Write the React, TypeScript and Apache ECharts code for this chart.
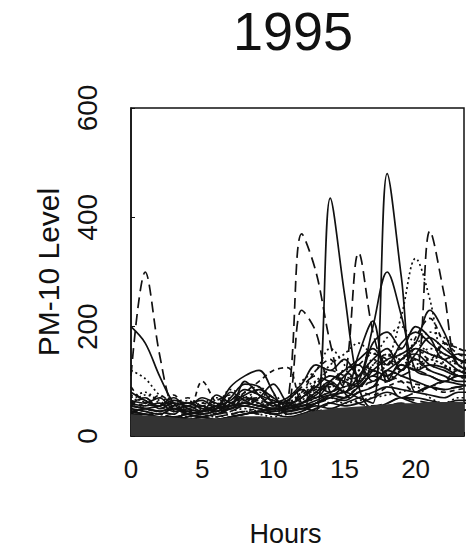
import React, { useEffect, useRef } from "react";
import * as echarts from "echarts";

const HOURS = [0, 1, 2, 3, 4, 5, 6, 7, 8, 9, 10, 11, 12, 13, 14, 15, 16, 17, 18, 19, 20, 21, 22, 23, 24];
const X_TICKS = [0, 5, 10, 15, 20];
const Y_TICKS = [0, 200, 400, 600];

const S01 = [110, 300, 150, 45, 30, 25, 20, 25, 30, 30, 25, 30, 40, 45, 50, 40, 45, 50, 55, 60, 50, 45, 40, 45, 50];
const S02 = [200, 170, 110, 60, 40, 35, 30, 35, 40, 45, 40, 35, 40, 50, 60, 55, 60, 70, 80, 70, 60, 55, 50, 60, 60];
const S03 = [120, 105, 75, 60, 45, 40, 35, 40, 45, 40, 35, 40, 45, 60, 70, 60, 65, 70, 75, 80, 90, 70, 60, 70, 70];
const S04 = [90, 60, 55, 75, 40, 100, 60, 40, 45, 50, 40, 45, 60, 80, 60, 70, 90, 100, 110, 100, 80, 90, 100, 120, 110];
const S05 = [50, 45, 40, 50, 45, 40, 50, 90, 110, 120, 80, 40, 45, 55, 50, 60, 70, 80, 90, 85, 80, 75, 70, 80, 80];
const S06 = [60, 50, 45, 40, 60, 55, 40, 60, 80, 100, 120, 125, 60, 50, 60, 70, 80, 75, 90, 100, 95, 90, 80, 85, 90];
const S07 = [40, 50, 45, 55, 60, 50, 45, 70, 95, 90, 60, 50, 55, 60, 70, 65, 80, 90, 120, 110, 100, 90, 85, 90, 95];
const S08 = [40, 35, 30, 30, 25, 25, 30, 35, 40, 45, 50, 60, 370, 300, 170, 80, 60, 55, 60, 70, 65, 60, 55, 60, 60];
const S09 = [35, 30, 30, 25, 25, 30, 30, 35, 40, 45, 40, 45, 50, 45, 435, 260, 90, 50, 60, 70, 70, 65, 60, 65, 65];
const S10 = [30, 30, 25, 25, 30, 30, 35, 40, 45, 40, 45, 50, 55, 60, 70, 100, 335, 190, 110, 70, 80, 90, 85, 90, 90];
const S11 = [30, 25, 25, 30, 30, 35, 30, 35, 40, 45, 50, 45, 50, 60, 70, 80, 70, 60, 480, 290, 80, 90, 100, 95, 90];
const S12 = [45, 40, 35, 35, 30, 35, 40, 50, 60, 55, 50, 55, 60, 70, 80, 90, 100, 200, 300, 220, 120, 110, 100, 110, 110];
const S13 = [50, 45, 40, 35, 35, 40, 45, 55, 65, 60, 55, 60, 80, 100, 90, 100, 120, 130, 140, 220, 325, 250, 130, 120, 110];
const S14 = [55, 50, 45, 40, 40, 45, 50, 60, 70, 65, 60, 65, 90, 110, 100, 120, 130, 120, 110, 130, 120, 375, 260, 130, 150];
const S15 = [45, 40, 35, 35, 30, 35, 40, 45, 55, 50, 45, 50, 230, 190, 80, 70, 80, 90, 100, 110, 120, 110, 100, 110, 110];
const S16 = [40, 35, 35, 30, 30, 35, 40, 45, 50, 45, 40, 60, 100, 120, 160, 130, 90, 100, 110, 120, 130, 140, 130, 120, 120];
const S17 = [35, 35, 30, 30, 35, 40, 45, 50, 55, 50, 45, 50, 60, 80, 100, 80, 150, 210, 100, 140, 150, 130, 120, 110, 110];
const S18 = [40, 40, 35, 35, 40, 45, 50, 55, 60, 55, 50, 55, 70, 90, 110, 100, 90, 120, 140, 150, 170, 230, 190, 130, 120];
const S19 = [45, 40, 40, 35, 40, 45, 50, 55, 60, 55, 50, 55, 75, 95, 120, 110, 100, 130, 150, 120, 180, 215, 170, 140, 130];
const S20 = [70, 80, 60, 50, 45, 50, 60, 55, 70, 80, 60, 45, 55, 70, 80, 90, 110, 120, 100, 130, 140, 160, 150, 130, 120];
const S21 = [60, 55, 60, 45, 50, 55, 45, 60, 75, 85, 70, 55, 60, 75, 95, 80, 110, 140, 160, 120, 150, 180, 160, 140, 130];
const S22 = [55, 70, 50, 55, 45, 60, 55, 50, 65, 70, 60, 60, 80, 120, 140, 90, 100, 110, 130, 160, 140, 120, 170, 150, 140];
const S23 = [65, 60, 70, 50, 55, 45, 55, 65, 85, 75, 65, 60, 70, 90, 80, 110, 130, 100, 120, 140, 160, 150, 140, 120, 110];
const S24 = [75, 65, 55, 60, 50, 45, 50, 70, 60, 65, 55, 50, 60, 80, 90, 120, 100, 140, 130, 150, 120, 140, 130, 110, 100];
const S25 = [55, 50, 45, 50, 40, 45, 55, 50, 70, 60, 50, 50, 55, 65, 75, 70, 90, 110, 100, 120, 140, 120, 110, 100, 100];
const S26 = [45, 50, 55, 70, 50, 45, 75, 60, 55, 70, 95, 60, 50, 60, 75, 80, 95, 120, 110, 130, 120, 130, 125, 110, 105];
const S27 = [50, 60, 70, 55, 65, 50, 55, 85, 70, 60, 75, 55, 65, 90, 110, 100, 120, 110, 150, 140, 170, 150, 140, 130, 120];
const S28 = [60, 70, 50, 60, 55, 70, 60, 55, 100, 75, 55, 65, 85, 70, 100, 120, 140, 160, 130, 170, 190, 170, 150, 140, 130];
const S29 = [65, 55, 75, 60, 70, 55, 65, 75, 60, 85, 70, 50, 70, 85, 95, 110, 130, 150, 140, 120, 160, 140, 170, 160, 150];
const S30 = [80, 65, 55, 65, 60, 65, 50, 80, 65, 55, 60, 70, 95, 130, 120, 140, 110, 170, 190, 160, 200, 180, 140, 150, 145];
const S31 = [60, 75, 65, 45, 55, 60, 70, 50, 80, 90, 65, 60, 75, 100, 130, 150, 170, 150, 180, 200, 170, 190, 180, 160, 155];
const FLOOR = [40, 38, 36, 34, 32, 32, 32, 34, 36, 36, 34, 34, 40, 46, 50, 52, 54, 56, 58, 60, 60, 62, 62, 62, 62];

const LONG = [11, 6];
const SHORT = [5, 4];
const DOT = [2, 3];

const CURVES: [number[], any][] = [
  [S01, LONG], [S02, "solid"], [S03, DOT], [S04, SHORT], [S05, "solid"],
  [S06, SHORT], [S07, "solid"], [S08, LONG], [S09, "solid"], [S10, LONG],
  [S11, "solid"], [S12, "solid"], [S13, DOT], [S14, LONG], [S15, LONG],
  [S16, DOT], [S17, "solid"], [S18, "solid"], [S19, SHORT], [S20, DOT],
  [S21, "solid"], [S22, SHORT], [S23, "solid"], [S24, DOT], [S25, "solid"],
  [S26, "solid"], [S27, DOT], [S28, "solid"], [S29, SHORT], [S30, "solid"],
  [S31, DOT],
];

const FONT = "Liberation Sans, Arial, Helvetica, sans-serif";
const INK = "#111";

export default function App() {
  const ref = useRef<HTMLDivElement>(null);
  useEffect(() => {
    const chart = echarts.init(ref.current!, null, { renderer: "svg" });
    const series: any[] = CURVES.map(([vals, type]) => ({
      type: "line",
      data: HOURS.map((h, i) => [h, vals[i]]),
      smooth: 0.35,
      showSymbol: false,
      clip: true,
      lineStyle: { color: INK, width: 1.7, type },
    }));
    series.push({
      type: "line",
      data: HOURS.map((h, i) => [h, FLOOR[i]]),
      smooth: 0.4,
      showSymbol: false,
      clip: true,
      z: 5,
      lineStyle: { width: 0 },
      areaStyle: { color: "#333", opacity: 1 },
    });
    chart.setOption({
      animation: false,
      backgroundColor: "#fff",
      textStyle: { fontFamily: FONT },
      graphic: [
        {
          type: "text",
          x: 293,
          y: 31,
          style: {
            text: "1995",
            font: `54px ${FONT}`,
            fill: INK,
            textAlign: "center",
            textVerticalAlign: "middle",
          },
        },
      ],
      grid: {
        left: 131,
        right: 9,
        top: 108,
        bottom: 116,
        show: true,
        borderColor: INK,
        borderWidth: 1.5,
        backgroundColor: "transparent",
      },
      xAxis: {
        type: "value",
        min: 0,
        max: 23.4,
        interval: 5,
        name: "Hours",
        nameLocation: "middle",
        nameGap: 84,
        nameTextStyle: { fontSize: 27, color: INK, fontFamily: FONT, padding: [0, 24, 0, 0] },
        axisLine: { show: true, lineStyle: { color: INK, width: 1.5 } },
        axisTick: { show: true, inside: true, length: 4, lineStyle: { color: INK } },
        splitLine: { show: false },
        axisLabel: {
          fontSize: 26,
          color: INK,
          margin: 20,
          fontFamily: FONT,
          formatter: (v: number) => (X_TICKS.includes(v) ? String(v) : ""),
        },
      },
      yAxis: {
        type: "value",
        min: 0,
        max: 600,
        interval: 200,
        name: "PM-10 Level",
        nameLocation: "middle",
        nameGap: 68,
        nameTextStyle: { fontSize: 30, color: INK, fontFamily: FONT },
        axisLine: { show: true, lineStyle: { color: INK, width: 1.5 } },
        axisTick: { show: true, inside: true, length: 4, lineStyle: { color: INK } },
        splitLine: { show: false },
        axisLabel: {
          fontSize: 28,
          color: INK,
          rotate: 90,
          margin: 30,
          fontFamily: FONT,
          formatter: (v: number) => (Y_TICKS.includes(v) ? String(v) : ""),
        },
      },
      series,
    });
    return () => chart.dispose();
  }, []);
  return <div ref={ref} style={{ position: "absolute", left: 0, top: 0, width: 473, height: 552 }} />;
}
